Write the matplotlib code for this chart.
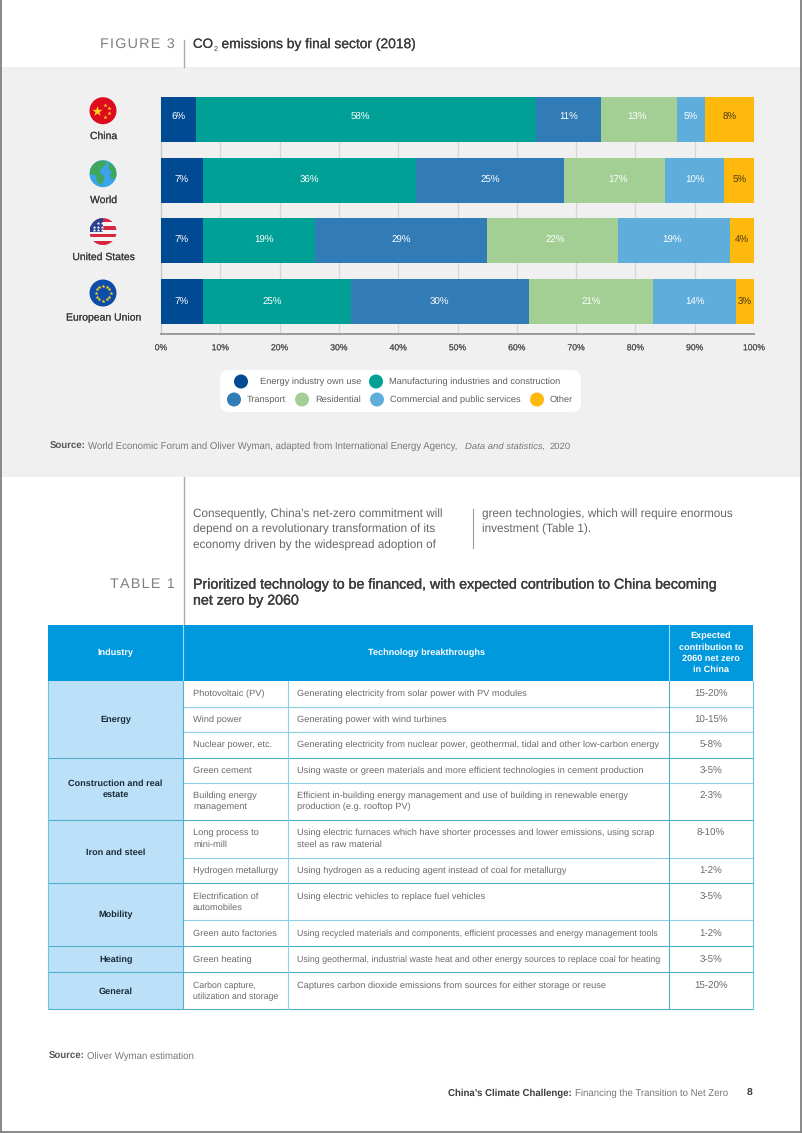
import numpy as np
import matplotlib
matplotlib.use("Agg")
import matplotlib.pyplot as plt
from matplotlib.patches import Rectangle, Circle, FancyBboxPatch, Polygon
import matplotlib.patheffects as pe

plt.rcParams['font.family'] = ['Liberation Sans', 'DejaVu Sans']
plt.rcParams['text.hinting'] = 'no_hinting'
plt.rcParams['text.hinting_factor'] = 8

# ---------- chart data ----------
countries = ["China", "World", "United States", "European Union"]
sectors = ["Energy industry own use", "Manufacturing industries and construction",
           "Transport", "Residential", "Commercial and public services", "Other"]
energy = [5.9, 7, 7, 7]
manufacturing = [57.3, 36, 19, 25]
transport = [11, 25, 29, 30]
residential = [12.8, 17, 22, 21]
commercial = [4.8, 10, 19, 14]
other = [8.2, 5, 4, 3]
series = [energy, manufacturing, transport, residential, commercial, other]
series_labels = [["6%", "7%", "7%", "7%"], ["58%", "36%", "19%", "25%"],
                 ["11%", "25%", "29%", "30%"], ["13%", "17%", "22%", "21%"],
                 ["5%", "10%", "19%", "14%"], ["8%", "5%", "4%", "3%"]]
colors = ["#004A94", "#00A096", "#317BB6", "#A3CE94", "#5FADDB", "#FFB90D"]
xticks = [0, 10, 20, 30, 40, 50, 60, 70, 80, 90, 100]

# ---------- table data ----------
industries = ["Energy", "Construction and real\nestate", "Iron and steel", "Mobility", "Heating", "General"]
industry_spans = [3, 2, 2, 2, 1, 1]
techs = ["Photovoltaic (PV)", "Wind power", "Nuclear power, etc.", "Green cement",
         "Building energy\nmanagement", "Long process to\nmini-mill", "Hydrogen metallurgy",
         "Electrification of\nautomobiles", "Green auto factories", "Green heating",
         "Carbon capture,\nutilization and storage"]
descs = ["Generating electricity from solar power with PV modules",
         "Generating power with wind turbines",
         "Generating electricity from nuclear power, geothermal, tidal and other low-carbon energy",
         "Using waste or green materials and more efficient technologies in cement production",
         "Efficient in-building energy management and use of building in renewable energy\nproduction (e.g. rooftop PV)",
         "Using electric furnaces which have shorter processes and lower emissions, using scrap\nsteel as raw material",
         "Using hydrogen as a reducing agent instead of coal for metallurgy",
         "Using electric vehicles to replace fuel vehicles",
         "Using recycled materials and components, efficient processes and energy management tools",
         "Using geothermal, industrial waste heat and other energy sources to replace coal for heating",
         "Captures carbon dioxide emissions from sources for either storage or reuse"]
contribs = ["15-20%", "10-15%", "5-8%", "3-5%", "2-3%", "8-10%", "1-2%", "3-5%", "1-2%", "3-5%", "15-20%"]

# ---------- layout ----------
W, H = 802, 1133
row_edges = [680.5, 706.5, 732, 757.5, 783, 820, 857.7, 883.3, 920.3, 946.3, 972.3, 1009.3]
col_x = [48, 183.3, 287.8, 669.2, 752.5]
label_shift = {(1, 0): -1.0, (3, 0): -0.4, (1, 2): 0.8, (3, 2): 0.5, (4, 2): -0.3, (1, 3): -0.7, (3, 1): 0.5}
label_row_shift = [-0.03, 0, -0.01, 0.01]
desc_sizes = [6.7] * 8 + [6.35, 6.38, 6.7]
tech_sizes = [6.7] * 10 + [6.3]

fig = plt.figure(figsize=(8.02, 11.33), dpi=100, facecolor="white")
ov = fig.add_axes([0, 0, 1, 1], zorder=1)
ov.set_xlim(0, W); ov.set_ylim(H, 0); ov.axis("off")

def T(x, y, s, size=6.6, color="#666666", ha="left", va="center", med=0, z=5, **kw):
    t = ov.text(x, y, s, fontsize=size, color=color, ha=ha, va=va, zorder=z, **kw)
    if med:
        t.set_path_effects([pe.withStroke(linewidth=med, foreground=color)])
    return t

# page & panel
ov.add_patch(Rectangle((0, 67), W, 409.5, fc="#F0F0F0", ec="none", zorder=0))
for xs, ys in [((1, 1), (0, H)), ((801, 801), (0, H)), ((0, W), (1132, 1132))]:
    ov.plot(xs, ys, color="#808080", lw=1.3, zorder=9)
ov.plot([183.6, 183.6], [40, 67], color="#AAAAAA", lw=1)
ov.plot([183.6, 183.6], [476.5, 625], color="#AAAAAA", lw=1)
ov.plot([473, 473], [509, 548], color="#999999", lw=0.8)

# headings
T(174.5, 44, "F\u200aI\u200aG\u200aU\u200aR\u200aE\u200a \u200a3", size=10.4, color="#808080", ha="right")
T(193, 44.5, "CO", size=9.6, color="#3C3C3C", med=0.15)
T(213.9, 49.5, "2", size=5.2, color="#3C3C3C")
T(221.5, 44.5, "emissions by final sector (2018)", size=9.95, color="#3C3C3C", med=0.15)
T(174.5, 584.5, "T\u200aA\u200aB\u200aL\u200aE\u200a \u200a1", size=10.4, color="#808080", ha="right")
T(193, 585, "Prioritized technology to be financed, with expected contribution to China becoming",
  size=10.23, color="#3C3C3C", med=0.25)
T(193, 601, "net zero by 2060", size=10.23, color="#3C3C3C", med=0.25)

# paragraph
for y, a in zip([514.5, 529.5, 545.5], ["Consequently, China\u2019s net-zero commitment will",
                                        "depend on a revolutionary transformation of its",
                                        "economy driven by the widespread adoption of"]):
    T(193, y, a, size=8.5, color="#666666")
for y, a in zip([514.5, 529.5], ["green technologies, which will require enormous", "investment (Table 1)."]):
    T(482, y, a, size=8.5, color="#666666")

# ---------- bar chart ----------
ax_l, ax_r, ax_t, ax_b = 161, 754, 97, 334
ax = fig.add_axes([ax_l / W, 1 - ax_b / H, (ax_r - ax_l) / W, (ax_b - ax_t) / H], zorder=2)
ax.patch.set_alpha(0)
ypos = np.arange(len(countries))
ax.set_xlim(0, 100)
ax.set_ylim(3.535, -0.371)
ax.set_axisbelow(True)
ax.grid(axis="x", color="#D6D6D6", lw=0.9)
left = np.zeros(len(countries))
for k, (vals, c, labs) in enumerate(zip(series, colors, series_labels)):
    vals = np.array(vals, float)
    ax.barh(ypos, vals, left=left, height=45 / 60.67, color=c, lw=0, zorder=3)
    for i in range(len(countries)):
        col = "#4A3A10" if k == 5 else "white"
        ax.text(left[i] + vals[i] / 2 + label_shift.get((k, i), 0), ypos[i] + label_row_shift[i], labs[i],
                ha="center", va="center", fontsize=7.0, color=col, zorder=4)
    left += vals
for s in ["top", "right"]:
    ax.spines[s].set_visible(False)
ax.spines["left"].set_color("#C8C8C8"); ax.spines["left"].set_linewidth(0.9)
ax.spines["bottom"].set_color("#9A9A9A"); ax.spines["bottom"].set_linewidth(1.4)
ax.set_xticks(xticks)
ax.set_xticklabels([f"{v}%" for v in xticks], fontsize=6.2, color="#555555",
                   path_effects=[pe.withStroke(linewidth=0.1, foreground="#555555")])
ax.tick_params(axis="x", length=0, pad=7)
ax.set_yticks([])

# country labels
for name, y in zip(countries, [136.5, 200.5, 257.5, 318]):
    T(103.5, y, name, size=7.5, color="#3C3C3C", ha="center", med=0.1)

# flags
R = 13.5
def disc(cx, cy, fc):
    c = Circle((cx, cy), R, fc=fc, ec="none", zorder=3)
    ov.add_patch(c)
    return c

# China
cx, cy = 103, 110.7
disc(cx, cy, "#DE0A1E")
ov.scatter([cx - 6], [cy], marker="*", s=60, c="#FFD21E", lw=0, zorder=4)
ov.scatter([cx + 2, cx + 6, cx + 6, cx + 2], [cy - 6, cy - 3, cy + 2, cy + 6], marker="*", s=10, c="#FFD21E", lw=0, zorder=4)

# World
cx, cy = 103, 173.7
clip = disc(cx, cy, "#3BA3EA")
for pts in [[(-13, -6), (-6, -13), (4, -13), (2, -8), (-2, -5), (-3, 0), (1, 2), (1, 6), (-2, 12), (-6, 8), (-7, 2), (-13, 0)],
            [(6, -12), (13, -5), (14, 3), (9, 6), (7, 1), (9, -2), (5, -5)]]:
    p = Polygon([(cx + a, cy + b) for a, b in pts], fc="#3FA75C", ec="none", zorder=4)
    ov.add_patch(p); p.set_clip_path(clip)

# United States
cx, cy = 103, 231.6
clip = disc(cx, cy, "#F4F4F4")
for k in range(-3, 4, 2):
    r = Rectangle((cx - R, cy + k * 3.9 - 1.95), 2 * R, 3.9, fc="#D7263D", ec="none", zorder=4)
    ov.add_patch(r); r.set_clip_path(clip)
r = Rectangle((cx - R, cy - R), R, R + 0.4, fc="#2A3F8F", ec="none", zorder=5)
ov.add_patch(r); r.set_clip_path(clip)
ov.scatter([cx - 9, cx - 5, cx - 1.5, cx - 9, cx - 5, cx - 1.5, cx - 5, cx - 1.5],
           [cy - 5, cy - 5, cy - 5, cy - 1.5, cy - 1.5, cy - 1.5, cy - 9, cy - 9],
           marker="*", s=7, c="white", lw=0, zorder=6)

# European Union
cx, cy = 103, 293
disc(cx, cy, "#0B4DA8")
ang = np.deg2rad(np.arange(0, 360, 30))
ov.scatter(cx + 7.5 * np.cos(ang), cy + 7.5 * np.sin(ang), marker="*", s=9, c="#FFD21E", lw=0, zorder=4)

# legend
ov.add_patch(FancyBboxPatch((220, 370), 361, 42, boxstyle="round,pad=0,rounding_size=9",
                            fc="white", ec="none", zorder=1))
leg_mark = [(241, 381.5), (376, 381.5), (234, 399.5), (302, 399.5), (377, 399.5), (537, 399.5)]
leg_text = [260, 389, 247, 315, 390, 550]
for (mx, my), tx, name, c in zip(leg_mark, leg_text, sectors, colors):
    ov.add_patch(Circle((mx, my), 7, fc=c, ec="none", zorder=3))
    T(tx, my, name, size=6.7, color="#5E5E5E")

# source
T(50, 448.5, "Source:", size=6.9, color="#555555", weight="bold", va="baseline")
T(88, 448.5, "World Economic Forum and Oliver Wyman, adapted from International Energy Agency,", size=6.97,
  color="#777777", va="baseline")
T(465, 448.5, "Data and statistics,", size=6.8, color="#777777", style="italic", va="baseline")
T(550, 448.5, "2020", size=6.8, color="#777777", va="baseline")

# ---------- table ----------
LINE = "#8AD0E6"
DARK = "#55AECB"
HDR_T, HDR_B = 625, row_edges[0]
ov.add_patch(Rectangle((col_x[0], HDR_T), col_x[-1] - col_x[0], HDR_B - HDR_T, fc="#0099DD", ec="none", zorder=2))
for x in [col_x[1], col_x[3]]:
    ov.plot([x, x], [HDR_T, HDR_B], color="#9ADCF5", lw=0.8, zorder=3)
T((col_x[0] + col_x[1]) / 2, 653, "Industry", size=6.6, color="white", ha="center", weight="bold")
T((col_x[1] + col_x[3]) / 2, 653, "Technology breakthroughs", size=6.6, color="white", ha="center", weight="bold")
for y, s in zip([636, 647.5, 659, 670], ["Expected", "contribution to", "2060 net zero", "in China"]):
    T(711, y, s, size=6.6, color="white", ha="center", weight="bold")

row = 0
for name, span in zip(industries, industry_spans):
    top, bot = row_edges[row], row_edges[row + span]
    ov.add_patch(Rectangle((col_x[0], top), col_x[1] - col_x[0], bot - top, fc="#BBE0F7", ec="none", zorder=1))
    T((col_x[0] + col_x[1]) / 2, (top + bot) / 2 + 0.5, name, size=6.6, color="#1C2B3A", ha="center",
      weight="bold", linespacing=1.4)
    ov.plot([col_x[0], col_x[-1]], [bot, bot], color=DARK, lw=0.8, zorder=3)
    row += span
for i, (t, d, c) in enumerate(zip(techs, descs, contribs)):
    top, bot = row_edges[i], row_edges[i + 1]
    if i + 1 not in np.cumsum(industry_spans):
        ov.plot([col_x[1], col_x[-1]], [bot, bot], color=LINE, lw=0.8, zorder=3)
    T(193, top + 9, t, size=tech_sizes[i], va="top", color="#6A6A6A", linespacing=1.4)
    T(297, top + 9, d, size=desc_sizes[i], va="top", color="#6A6A6A", linespacing=1.4)
    T(711, top + 16.3, c, size=7.0, ha="center", va="baseline", color="#6A6A6A")
for x, col in zip(col_x, ["#6CC5E0", DARK, LINE, DARK, "#6CC5E0"]):
    ov.plot([x, x], [row_edges[0], row_edges[-1]], color=col, lw=0.8, zorder=3)

# footer
T(48.5, 1059, "Source:", size=6.9, color="#555555", weight="bold", va="baseline")
T(87, 1059, "Oliver Wyman estimation", size=6.9, color="#777777", va="baseline")
T(447.5, 1096, "China\u2019s Climate Challenge:", size=6.95, color="#3C3C3C", weight="bold", va="baseline")
T(575, 1096, "Financing the Transition to Net Zero", size=6.93, color="#777777", va="baseline")
T(750, 1096, "8", size=7.5, color="#3C3C3C", ha="center", weight="bold", va="baseline")

fig.savefig("out.png", dpi=100, facecolor="white")
